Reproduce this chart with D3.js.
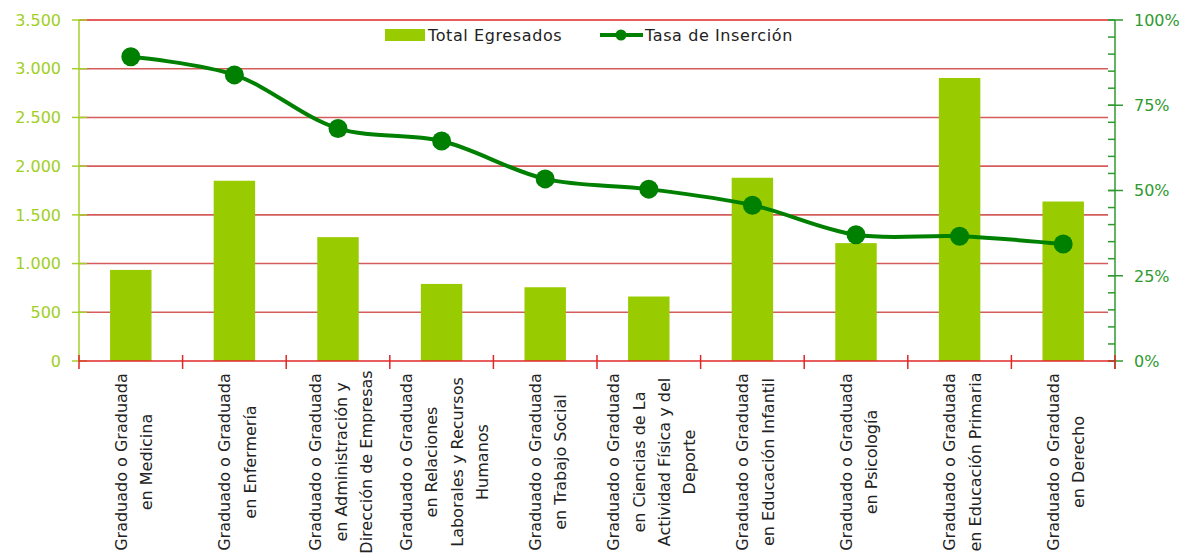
<!DOCTYPE html>
<html>
<head>
<meta charset="utf-8">
<script src="https://cdn.jsdelivr.net/npm/d3@7"></script>
<style>
  body { margin: 0; background: #fff; }
  svg { display: block; font-family: "DejaVu Sans", Verdana, sans-serif; }
</style>
</head>
<body>
<div id="chart"></div>
<script>
// titulaciones (cada linea de la etiqueta por separado)
const categories = [
  ["Graduado o Graduada", "en Medicina"],
  ["Graduado o Graduada", "en Enfermería"],
  ["Graduado o Graduada", "en Administración y", "Dirección de Empresas"],
  ["Graduado o Graduada", "en Relaciones", "Laborales y Recursos", "Humanos"],
  ["Graduado o Graduada", "en Trabajo Social"],
  ["Graduado o Graduada", "en Ciencias de La", "Actividad Física y del", "Deporte"],
  ["Graduado o Graduada", "en Educación Infantil"],
  ["Graduado o Graduada", "en Psicología"],
  ["Graduado o Graduada", "en Educación Primaria"],
  ["Graduado o Graduada", "en Derecho"]
];
const totalEgresados = [935, 1850, 1271, 791, 757, 662, 1881, 1210, 2905, 1637];
const tasaInsercion = [0.892, 0.839, 0.682, 0.645, 0.534, 0.504, 0.457, 0.37, 0.366, 0.343];
const leftTicks = [0, 500, 1000, 1500, 2000, 2500, 3000, 3500];
const rightTicks = [0, 0.25, 0.5, 0.75, 1];

const width = 1184, height = 556;
const mLeft = 79, mRight = 1115, mTop = 20, mBottom = 361;

const svg = d3.select("#chart").append("svg")
  .attr("width", width)
  .attr("height", height);

const x = d3.scaleBand()
  .domain(d3.range(categories.length))
  .range([mLeft, mRight])
  .paddingInner(0.6)
  .paddingOuter(0.3);

const yL = d3.scaleLinear().domain([0, 3500]).range([mBottom, mTop]);
const yR = d3.scaleLinear().domain([0, 1]).range([mBottom, mTop]);

const fmt = d3.formatLocale({ decimal: ",", thousands: ".", grouping: [3], currency: ["", ""] }).format(",");

// lineas de la cuadricula
svg.append("g")
  .selectAll("line")
  .data(leftTicks.filter((d) => d > 0))
  .enter()
  .append("line")
  .attr("x1", mLeft)
  .attr("x2", mRight - 7)
  .attr("y1", (d) => yL(d))
  .attr("y2", (d) => yL(d))
  .attr("stroke", (d) => (d === 3500 ? "#e02828" : "#d65c5c"))
  .attr("stroke-width", 1.6);

// barras
svg.append("g")
  .selectAll("rect")
  .data(totalEgresados)
  .enter()
  .append("rect")
  .attr("x", (d, i) => x(i))
  .attr("y", (d) => yL(d))
  .attr("width", x.bandwidth())
  .attr("height", (d) => yL(0) - yL(d))
  .attr("fill", "#99cc00");

// eje izquierdo
const axL = svg.append("g");
axL.append("line")
  .attr("x1", mLeft).attr("x2", mLeft)
  .attr("y1", mTop).attr("y2", mBottom)
  .attr("stroke", "#a3d12a").attr("stroke-width", 1.5);
axL.selectAll(".tk")
  .data(leftTicks)
  .enter()
  .append("line")
  .attr("x1", mLeft - 7).attr("x2", mLeft + 8)
  .attr("y1", (d) => yL(d)).attr("y2", (d) => yL(d))
  .attr("stroke", "#a3d12a").attr("stroke-width", 1.5);
axL.selectAll("text")
  .data(leftTicks)
  .enter()
  .append("text")
  .attr("x", 61)
  .attr("y", (d) => yL(d))
  .attr("dy", "0.36em")
  .attr("text-anchor", "end")
  .attr("fill", "#9fcf1f")
  .style("font-size", "16px")
  .text((d) => fmt(d));

// eje derecho
const axR = svg.append("g");
axR.append("line")
  .attr("x1", mRight).attr("x2", mRight)
  .attr("y1", mTop).attr("y2", mBottom + 8)
  .attr("stroke", "#2f9a2f").attr("stroke-width", 1.5);
axR.selectAll(".minor")
  .data(d3.range(0, 1.0001, 0.05))
  .enter()
  .append("line")
  .attr("x1", mRight - 7).attr("x2", mRight)
  .attr("y1", (d) => yR(d)).attr("y2", (d) => yR(d))
  .attr("stroke", "#2f9a2f").attr("stroke-width", 1.5);
axR.selectAll(".major")
  .data(rightTicks)
  .enter()
  .append("line")
  .attr("x1", mRight - 7).attr("x2", mRight + 8)
  .attr("y1", (d) => yR(d)).attr("y2", (d) => yR(d))
  .attr("stroke", "#2f9a2f").attr("stroke-width", 1.5);
axR.selectAll("text")
  .data(rightTicks)
  .enter()
  .append("text")
  .attr("x", 1134)
  .attr("y", (d) => yR(d))
  .attr("dy", "0.36em")
  .attr("fill", "#2f9a2f")
  .style("font-size", "16px")
  .text((d) => Math.round(d * 100) + "%");

// eje x (rojo) con marcas entre categorias
const axX = svg.append("g");
axX.append("line")
  .attr("x1", mLeft).attr("x2", mRight)
  .attr("y1", mBottom).attr("y2", mBottom)
  .attr("stroke", "#e02828").attr("stroke-width", 1.6);
axX.selectAll(".tk")
  .data(d3.range(categories.length + 1))
  .enter()
  .append("line")
  .attr("x1", (d) => mLeft + d * x.step())
  .attr("x2", (d) => mLeft + d * x.step())
  .attr("y1", mBottom - 6).attr("y2", mBottom + 8)
  .attr("stroke", "#e02828").attr("stroke-width", 1.5);

// etiquetas verticales
const lineGap = 25.3;
categories.forEach((lines, i) => {
  const cx = x(i) + x.bandwidth() / 2 + 2.5;
  lines.forEach((t, j) => {
    const lx = cx + (j - (lines.length - 1) / 2) * lineGap + 6;
    svg.append("text")
      .attr("transform", `translate(${lx},462) rotate(-90)`)
      .attr("text-anchor", "middle")
      .attr("fill", "#222")
      .style("font-size", "16px")
      .text(t);
  });
});

// linea de tasa de insercion
const line = d3.line()
  .x((d, i) => x(i) + x.bandwidth() / 2)
  .y((d) => yR(d))
  .curve(d3.curveCatmullRom.alpha(0.5));

svg.append("path")
  .datum(tasaInsercion)
  .attr("d", line)
  .attr("fill", "none")
  .attr("stroke", "#008000")
  .attr("stroke-width", 4);

svg.append("g")
  .selectAll("circle")
  .data(tasaInsercion)
  .enter()
  .append("circle")
  .attr("cx", (d, i) => x(i) + x.bandwidth() / 2)
  .attr("cy", (d) => yR(d))
  .attr("r", 9.5)
  .attr("fill", "#008000");

// leyenda
const legend = svg.append("g")
  .style("font-size", "16px")
  .style("letter-spacing", "0.6px");
legend.append("rect")
  .attr("x", 385).attr("y", 29)
  .attr("width", 40).attr("height", 12)
  .attr("fill", "#99cc00");
legend.append("text")
  .attr("x", 428).attr("y", 41)
  .attr("fill", "#222")
  .text("Total Egresados");
legend.append("line")
  .attr("x1", 600).attr("x2", 643)
  .attr("y1", 35).attr("y2", 35)
  .attr("stroke", "#008000").attr("stroke-width", 4);
legend.append("circle")
  .attr("cx", 621).attr("cy", 35).attr("r", 5.5)
  .attr("fill", "#008000");
legend.append("text")
  .attr("x", 645).attr("y", 41)
  .attr("fill", "#222")
  .text("Tasa de Inserción");
</script>
</body>
</html>
